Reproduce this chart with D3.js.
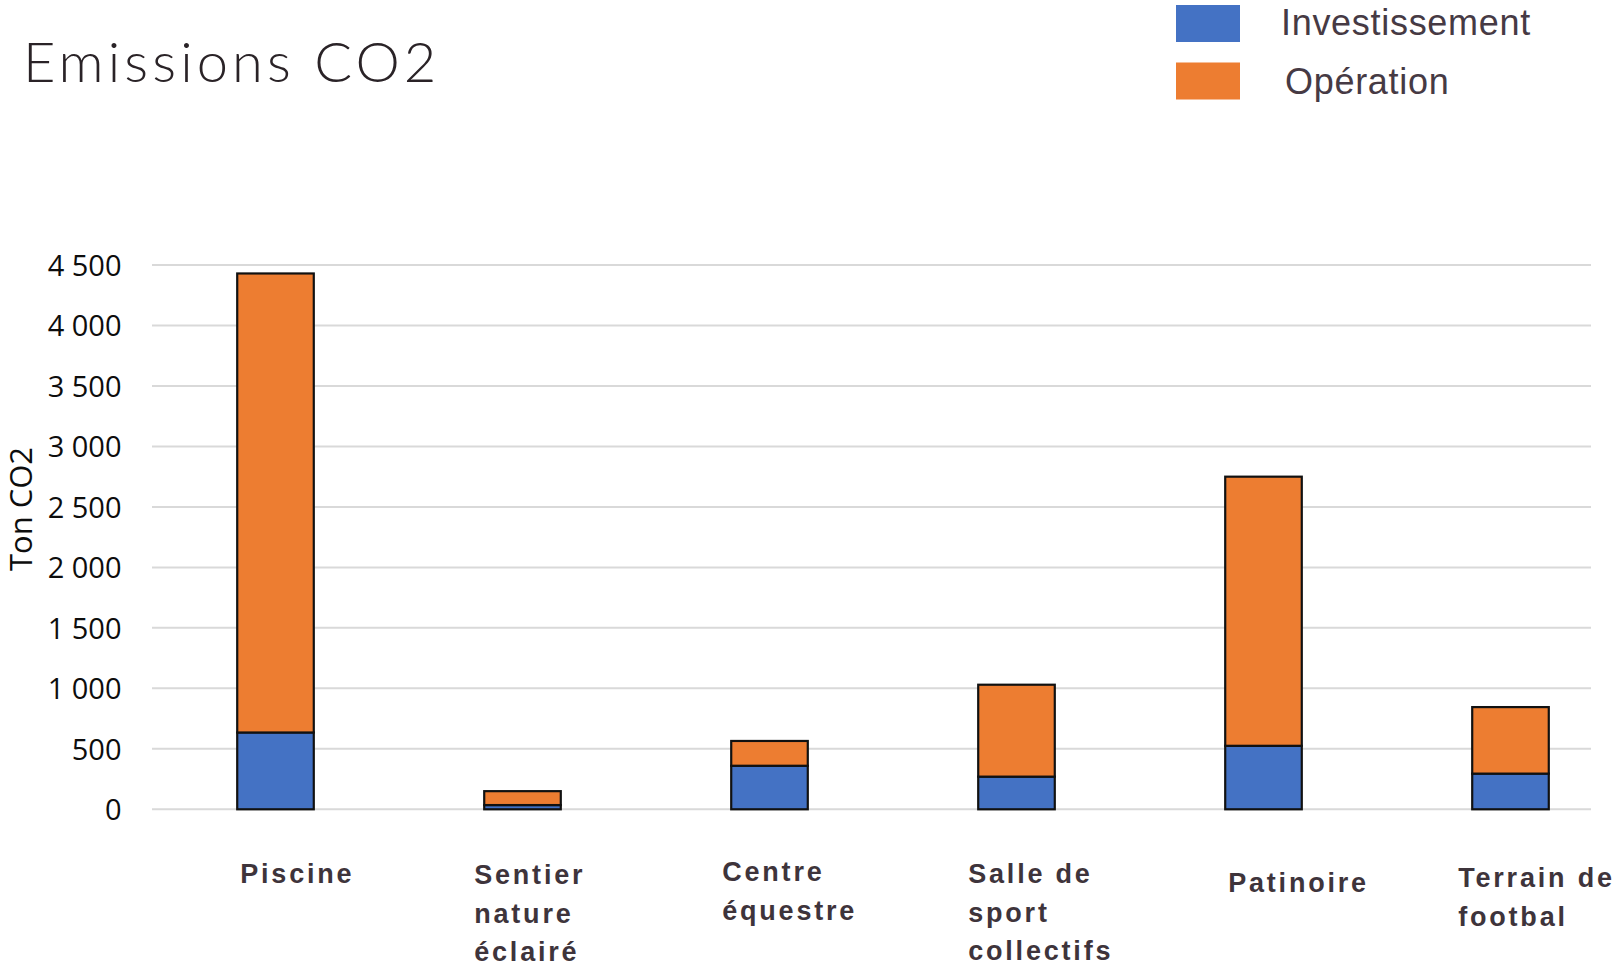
<!DOCTYPE html>
<html>
<head>
<meta charset="utf-8">
<script src="https://cdn.jsdelivr.net/npm/d3@7"></script>
<style>
  html, body { margin: 0; padding: 0; background: #fff; }
  svg { display: block; }
</style>
</head>
<body>
<svg id="chart" width="1613" height="962"></svg>
<script>
// Facilities and their CO2 emissions (tonnes), split into construction and operation
const categories = ["Piscine", "Sentier nature éclairé", "Centre équestre", "Salle de sport collectifs", "Patinoire", "Terrain de footbal"];
const labelLines = [["Piscine"], ["Sentier", "nature", "éclairé"], ["Centre", "équestre"], ["Salle de", "sport", "collectifs"], ["Patinoire"], ["Terrain de", "footbal"]];
const investissement = [635, 35, 360, 270, 525, 295];
const operation = [3795, 115, 205, 760, 2225, 550];
const seriesNames = ["Investissement", "Opération"];
const yTicks = [0, 500, 1000, 1500, 2000, 2500, 3000, 3500, 4000, 4500];

const colors = { Investissement: "#4472C4", "Opération": "#ED7D31" };

const rows = categories.map((c, i) => ({ cat: c, Investissement: investissement[i], "Opération": operation[i] }));

const svg = d3.select("#chart");

const x = d3.scaleBand()
  .domain(categories)
  .range([152, 1634])
  .paddingInner(0.69)
  .paddingOuter(0.345);

const y = d3.scaleLinear().domain([0, 4500]).range([809.3, 265]);

const fmt = d3.formatLocale({ decimal: ",", thousands: " ", grouping: [3], currency: ["", " €"] }).format(",d");

// Horizontal gridlines
svg.append("g")
  .selectAll("line")
  .data(yTicks)
  .join("line")
  .attr("x1", 152).attr("x2", 1591)
  .attr("y1", d => y(d)).attr("y2", d => y(d))
  .attr("stroke", "#d9d9d9")
  .attr("stroke-width", 2);

// Y axis tick labels
const yAxis = d3.axisLeft(y).tickValues(yTicks).tickFormat(fmt).tickSize(0).tickPadding(0);
const gy = svg.append("g").attr("transform", "translate(121.5,0)").call(yAxis);
gy.select(".domain").remove();
gy.selectAll("text")
  .attr("font-family", "'Open Sans', sans-serif")
  .attr("font-size", 29)
  .attr("font-weight", 500)
  .attr("fill", "#0d0d0d")
  .attr("dy", "0.36em");

// Y axis title
svg.append("text")
  .attr("transform", "translate(32,509) rotate(-90)")
  .attr("text-anchor", "middle")
  .attr("font-family", "'Open Sans', sans-serif")
  .attr("font-size", 31)
  .attr("font-weight", 500)
  .attr("fill", "#0d0d0d")
  .text("Ton CO2");

// Stacked bars
const stacked = d3.stack().keys(seriesNames)(rows);
svg.append("g")
  .selectAll("g")
  .data(stacked)
  .join("g")
  .attr("fill", d => colors[d.key])
  .selectAll("rect")
  .data(d => d)
  .join("rect")
  .attr("x", d => x(d.data.cat))
  .attr("width", x.bandwidth())
  .attr("y", d => y(d[1]))
  .attr("height", d => y(d[0]) - y(d[1]))
  .attr("stroke", "#111")
  .attr("stroke-width", 2.2);

// Category labels (multi-line, left aligned under each bar)
const labelNudge = [[3, 883], [-10, 884], [-9, 881], [-10, 883], [3, 892], [-14, 887]];
const gl = svg.append("g")
  .attr("font-family", "'Liberation Sans', Arial, sans-serif")
  .attr("font-weight", "bold")
  .attr("font-size", 27)
  .attr("letter-spacing", "2.8px")
  .attr("fill", "#3e343b");
categories.forEach((c, i) => {
  const t = gl.append("text")
    .attr("x", x(c) + labelNudge[i][0])
    .attr("y", labelNudge[i][1]);
  labelLines[i].forEach((line, j) => {
    t.append("tspan")
      .attr("x", x(c) + labelNudge[i][0])
      .attr("dy", j === 0 ? 0 : 38.5)
      .text(line);
  });
});

// Title
svg.append("text")
  .attr("x", 23).attr("y", 82)
  .attr("font-family", "Lato, sans-serif")
  .attr("font-weight", 300)
  .attr("font-size", 56)
  .attr("letter-spacing", "4.1px")
  .attr("fill", "#2a2327")
  .text("Emissions CO2");

// Legend
const legend = svg.append("g");
seriesNames.forEach((s, i) => {
  legend.append("rect")
    .attr("x", 1176).attr("y", 5 + i * 57.5)
    .attr("width", 64).attr("height", 37)
    .attr("fill", colors[s]);
  legend.append("text")
    .attr("x", 1281 + i * 4).attr("y", 35 + i * 59)
    .attr("font-family", "'Liberation Sans', Arial, sans-serif")
    .attr("font-size", 36)
    .attr("letter-spacing", "0.7px")
    .attr("fill", "#463a44")
    .text(s);
});
</script>
</body>
</html>
